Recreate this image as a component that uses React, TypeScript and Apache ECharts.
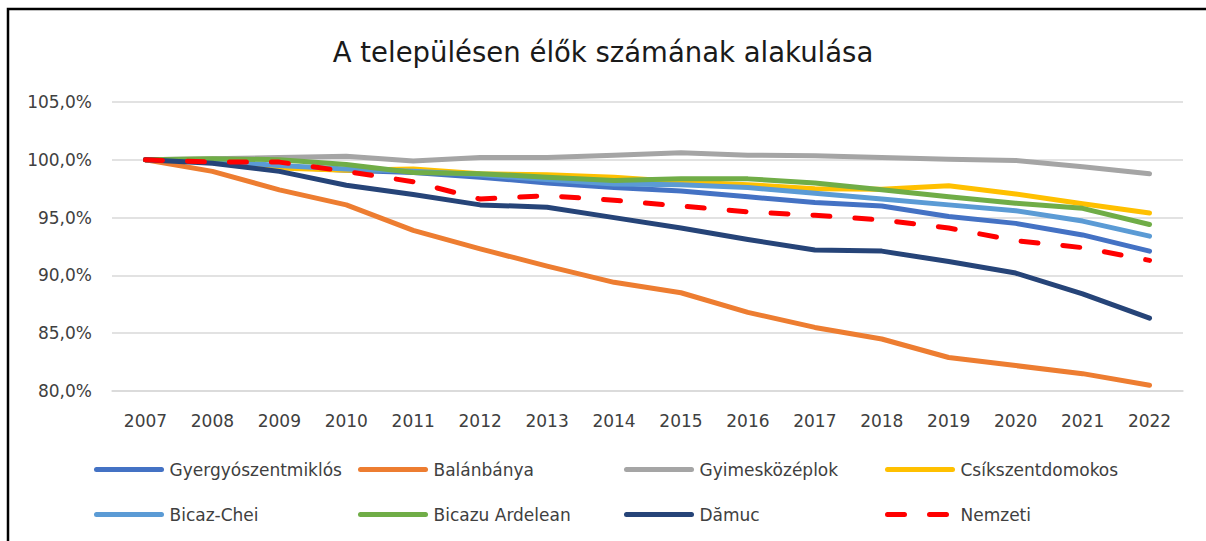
import React, { useEffect, useRef } from "react";
import * as echarts from "echarts";

const years = ["2007","2008","2009","2010","2011","2012","2013","2014","2015","2016","2017","2018","2019","2020","2021","2022"];

const gyergyo = [100, 99.8, 99.4, 99.1, 98.9, 98.5, 98.0, 97.6, 97.3, 96.8, 96.3, 96.0, 95.1, 94.5, 93.5, 92.1];
const balan = [100, 99.0, 97.4, 96.1, 93.9, 92.3, 90.8, 89.4, 88.5, 86.8, 85.5, 84.5, 82.9, 82.2, 81.5, 80.5];
const gyimes = [100, 100.1, 100.2, 100.3, 99.9, 100.2, 100.2, 100.4, 100.6, 100.4, 100.35, 100.2, 100.05, 99.95, 99.4, 98.8];
const csik = [100, 99.8, 99.3, 99.1, 99.2, 98.8, 98.7, 98.5, 98.1, 97.85, 97.5, 97.45, 97.75, 97.05, 96.2, 95.4];
const bicazChei = [100, 99.9, 99.5, 99.2, 99.0, 98.7, 98.3, 97.9, 97.85, 97.6, 97.1, 96.6, 96.1, 95.6, 94.7, 93.4];
const bicazuArdelean = [100, 100.1, 100.0, 99.6, 98.9, 98.8, 98.5, 98.2, 98.35, 98.35, 98.0, 97.4, 96.8, 96.25, 95.8, 94.4];
const damuc = [100, 99.7, 99.0, 97.8, 97.0, 96.1, 95.9, 95.0, 94.1, 93.1, 92.2, 92.1, 91.2, 90.2, 88.4, 86.3];
const nemzeti = [100, 99.8, 99.8, 99.0, 98.1, 96.6, 96.9, 96.5, 96.0, 95.5, 95.2, 94.8, 94.1, 93.0, 92.4, 91.3];

const seriesNames = ["Gyergyószentmiklós", "Balánbánya", "Gyimesközéplok", "Csíkszentdomokos", "Bicaz-Chei", "Bicazu Ardelean", "Dămuc", "Nemzeti"];
const seriesData = [gyergyo, balan, gyimes, csik, bicazChei, bicazuArdelean, damuc, nemzeti];
const seriesColors = ["#4472C4", "#ED7D31", "#A5A5A5", "#FFC000", "#5B9BD5", "#70AD47", "#264478", "#FF0000"];

const FONT = "DejaVu Sans";

export default function App() {
  const ref = useRef<HTMLDivElement>(null);
  useEffect(() => {
    if (!ref.current) return;
    const chart = echarts.init(ref.current, undefined, { renderer: "svg" });
    const legendCols = [94, 358, 624, 885];
    const legendRows = [461, 506];
    const legends = seriesNames.map((name, i) => ({
      data: [name],
      left: legendCols[i % 4],
      top: legendRows[Math.floor(i / 4)],
      padding: 0,
      itemWidth: 65,
      itemHeight: 14,
      selectedMode: false,
      itemStyle: { opacity: 0 },
      lineStyle: { width: 5, cap: "round" },
      textStyle: { fontFamily: FONT, fontSize: 17, color: "#404040", padding: [0, 0, 0, 3] },
    }));
    chart.setOption({
      animation: false,
      backgroundColor: "#ffffff",
      title: {
        text: "A településen élők számának alakulása",
        left: "center",
        top: 33,
        textStyle: { fontFamily: FONT, fontSize: 27.5, fontWeight: "normal", color: "#1a1a1a" },
      },
      graphic: [
        {
          type: "rect",
          shape: { x: 8, y: 9, width: 1220, height: 600 },
          style: { fill: "none", stroke: "#000", lineWidth: 2.5 },
          silent: true,
          z: 100,
        },
      ],
      legend: legends,
      grid: { left: 112, right: 23, top: 102, bottom: 150 },
      xAxis: {
        type: "category",
        data: years,
        boundaryGap: true,
        axisLine: { show: true, lineStyle: { color: "#D9D9D9", width: 1.5 } },
        axisTick: { show: false },
        axisLabel: { fontFamily: FONT, fontSize: 17, color: "#404040", margin: 21 },
      },
      yAxis: {
        type: "value",
        min: 80,
        max: 105,
        interval: 5,
        axisLine: { show: false },
        axisTick: { show: false },
        splitLine: { lineStyle: { color: "#D9D9D9", width: 1.5 } },
        axisLabel: {
          fontFamily: FONT,
          fontSize: 17,
          color: "#404040",
          margin: 20,
          formatter: (v: number) => v.toFixed(1).replace(".", ",") + "%",
        },
      },
      series: seriesNames.map((name, i) => ({
        name,
        type: "line",
        data: seriesData[i],
        showSymbol: false,
        symbol: "none",
        color: seriesColors[i],
        lineStyle: {
          color: seriesColors[i],
          width: 5,
          cap: "round",
          join: "round",
          type: name === "Nemzeti" ? [17, 25] : "solid",
        },
        z: 2 + i,
      })),
    });
    return () => chart.dispose();
  }, []);
  return (
    <div
      ref={ref}
      style={{ position: "fixed", left: 0, top: 0, width: 1206, height: 541 }}
    />
  );
}
